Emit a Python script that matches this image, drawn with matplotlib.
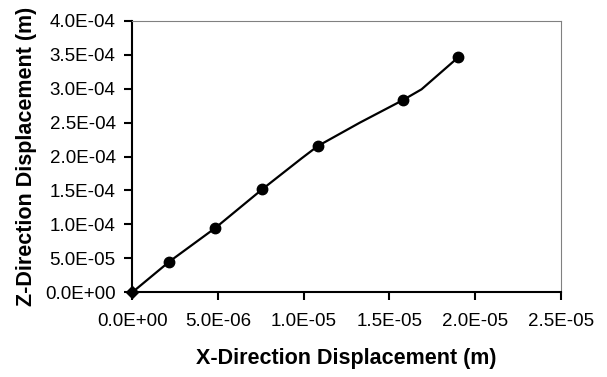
import numpy as np
import matplotlib.pyplot as plt
from matplotlib.ticker import FormatStrFormatter

plt.rcParams['font.family'] = ['Liberation Sans', 'DejaVu Sans']

# measured points (markers)
x_pts = [0.0, 2.16e-6, 4.84e-6, 7.58e-6, 1.083e-5, 1.577e-5, 1.902e-5]
z_pts = [0.0, 4.52e-5, 9.47e-5, 1.517e-4, 2.155e-4, 2.828e-4, 3.461e-4]

# line through the data (has a few unmarked bends)
x_line = [0.0, 2.16e-6, 4.84e-6, 7.58e-6, 9.88e-6, 1.083e-5, 1.328e-5, 1.577e-5, 1.688e-5, 1.902e-5]
z_line = [0.0, 4.52e-5, 9.47e-5, 1.517e-4, 1.973e-4, 2.155e-4, 2.499e-4, 2.828e-4, 2.99e-4, 3.461e-4]

fig = plt.figure(figsize=(6.07, 3.77), dpi=100)
ax = fig.add_axes([0.218, 0.2247, 0.7057, 0.7203])

ax.plot(x_line, z_line, color='black', lw=1.6, zorder=3)
ax.plot(x_pts[1:], z_pts[1:], 'o', color='black', ms=7.5, zorder=4)
ax.plot(x_pts[:1], z_pts[:1], 'D', color='black', ms=6, zorder=4, clip_on=False)

ax.set_xlim(0, 2.5e-5)
ax.set_ylim(0, 4.0e-4)
ax.set_xticks(np.arange(0, 2.51e-5, 5e-6))
ax.set_yticks(np.arange(0, 4.01e-4, 5e-5))
ax.xaxis.set_major_formatter(FormatStrFormatter('%.1E'))
ax.yaxis.set_major_formatter(FormatStrFormatter('%.1E'))

for s in ['left', 'bottom']:
    ax.spines[s].set_linewidth(1.5)
    ax.spines[s].set_color('black')
for s in ['top', 'right']:
    ax.spines[s].set_linewidth(0.8)
    ax.spines[s].set_color('#808080')

ax.tick_params(direction='out', length=6, width=1.5, labelsize=13.5, colors='black')
ax.tick_params(axis='y', pad=6)
ax.tick_params(axis='x', pad=9)

ax.set_xlabel('X-Direction Displacement (m)', fontsize=15.5, fontweight='bold', va='center')
ax.set_ylabel('Z-Direction Displacement (m)', fontsize=15.5, fontweight='bold', va='center')
ax.xaxis.set_label_coords(0.5, -0.242)
ax.yaxis.set_label_coords(-0.248, 0.5)

fig.savefig('out.png', dpi=100)
